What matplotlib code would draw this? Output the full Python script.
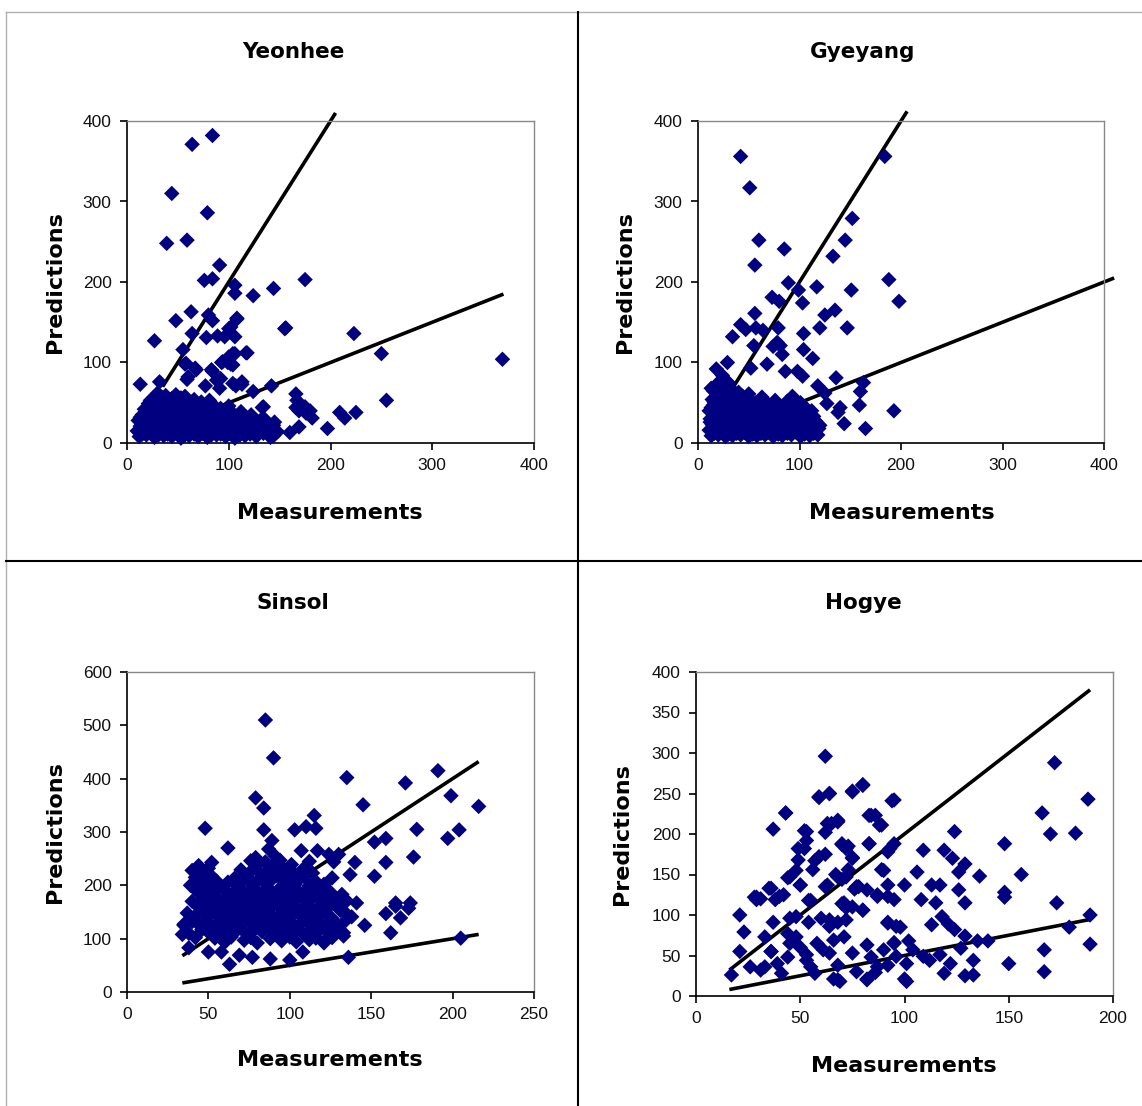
import matplotlib
matplotlib.use("Agg")
import matplotlib.pyplot as plt

# ---- Yeonhee ----
yeonhee_pts = [
    (84, 382), (64, 371), (44, 310), (79, 286), (39, 248), (59, 252), (91, 221), (76, 202),
    (84, 204), (106, 196), (106, 186), (124, 183), (144, 192), (175, 203), (63, 163), (80, 159),
    (84, 152), (48, 152), (108, 155), (102, 144), (156, 143), (64, 136), (78, 131), (89, 133),
    (96, 132), (106, 132), (27, 127), (223, 136), (55, 116), (93, 100), (100, 107), (102, 98),
    (106, 111), (118, 112), (250, 111), (369, 104), (57, 98), (60, 82), (67, 93), (84, 89),
    (13, 73), (32, 76), (92, 80), (107, 71), (113, 73), (142, 71), (133, 44), (166, 61),
    (166, 44), (169, 40), (180, 40), (182, 31), (255, 53), (209, 38), (214, 31), (225, 38),
    (197, 18), (169, 20), (160, 13), (144, 22), (144, 9), (58, 99), (68, 91), (59, 79),
    (100, 142), (108, 154), (117, 112), (104, 111), (94, 101), (99, 100), (104, 97), (83, 91),
    (77, 71), (88, 78), (91, 68), (104, 74), (113, 76), (124, 64), (155, 142), (134, 45),
    (167, 53), (176, 37), (175, 45),
    # dense cluster
    (12, 8), (19, 10), (27, 7), (36, 9), (44, 8), (53, 6), (61, 9), (70, 8), (79, 7), (88, 10),
    (97, 8), (106, 6), (116, 9), (127, 8), (141, 7),
    (10, 15), (16, 13), (23, 14), (31, 16), (40, 13), (48, 15), (57, 14), (66, 12), (74, 15),
    (83, 14), (92, 13), (101, 16), (111, 14), (121, 13), (133, 15), (148, 14),
    (13, 21), (20, 22), (28, 20), (35, 21), (43, 23), (52, 20), (60, 22), (69, 21), (78, 20),
    (86, 22), (95, 21), (104, 23), (114, 20), (124, 22), (136, 21),
    (11, 28), (18, 29), (25, 27), (33, 28), (41, 30), (49, 27), (58, 29), (66, 28), (75, 27),
    (84, 29), (93, 28), (102, 26), (110, 29), (119, 27), (131, 28), (145, 26),
    (15, 35), (22, 36), (30, 34), (38, 35), (46, 37), (55, 34), (63, 36), (72, 35), (81, 34),
    (90, 36), (99, 35), (108, 33), (122, 35),
    (17, 42), (25, 43), (33, 41), (41, 42), (50, 44), (59, 41), (68, 43), (77, 42), (86, 41),
    (96, 40), (112, 39),
    (21, 49), (29, 50), (37, 48), (46, 50), (55, 49), (64, 51), (74, 48), (85, 47), (100, 46),
    (26, 56), (34, 57), (44, 55), (53, 56), (66, 54), (81, 53), (30, 62), (48, 60),
    (15, 11), (23, 12), (31, 10), (40, 11), (49, 12), (57, 10), (66, 11), (74, 12), (83, 10),
    (92, 11), (101, 12), (111, 10), (121, 11), (134, 12),
    (14, 18), (21, 19), (29, 17), (37, 18), (45, 19), (54, 17), (62, 18), (71, 19), (80, 17),
    (89, 18), (98, 19), (107, 17), (117, 18), (128, 19), (140, 17),
    (15, 25), (22, 26), (30, 24), (38, 25), (46, 26), (54, 24), (62, 25), (71, 26), (80, 24),
    (89, 25), (98, 26), (107, 24), (116, 25), (126, 26),
    (13, 32), (20, 33), (27, 31), (35, 32), (43, 33), (51, 31), (60, 32), (68, 33), (77, 31),
    (86, 32), (95, 33), (104, 31), (115, 32), (135, 30),
    (19, 39), (27, 40), (35, 38), (43, 39), (52, 40), (61, 38), (70, 39), (80, 40), (90, 38),
    (104, 37),
    (24, 46), (33, 47), (41, 45), (50, 46), (60, 47), (70, 45), (80, 44), (92, 43),
    (23, 53), (30, 54), (39, 52), (48, 53), (58, 52), (73, 51), (38, 59), (57, 58),
]

# ---- Gyeyang ----
gyeyang_pts = [
    (42, 356), (51, 317), (60, 252), (56, 221), (85, 241), (184, 356), (152, 279), (145, 252),
    (133, 232), (188, 203), (198, 176), (151, 190), (117, 194), (89, 199), (99, 190), (103, 174),
    (73, 181), (80, 176), (135, 165), (125, 159), (120, 143), (147, 143), (104, 136), (56, 161),
    (34, 132), (42, 147), (47, 141), (57, 143), (64, 140), (79, 143), (78, 125), (81, 121),
    (74, 120), (83, 110), (104, 116), (113, 105), (55, 121), (29, 100), (18, 92), (24, 84),
    (52, 93), (68, 98), (86, 89), (98, 89), (103, 83), (136, 81), (163, 75), (160, 64),
    (159, 47), (140, 44), (127, 49), (138, 38), (144, 24), (165, 18), (193, 40), (125, 62),
    (118, 71),
    # dense cluster
    (13, 9), (20, 10), (27, 8), (34, 9), (42, 10), (50, 8), (58, 9), (66, 10), (74, 8), (83, 9),
    (92, 10), (101, 8), (110, 9), (118, 10),
    (11, 16), (17, 15), (24, 17), (31, 16), (38, 15), (46, 17), (54, 16), (62, 15), (70, 17),
    (79, 16), (88, 15), (97, 17), (106, 16), (115, 15),
    (14, 23), (21, 24), (28, 22), (35, 23), (43, 24), (51, 22), (59, 23), (68, 24), (77, 22),
    (86, 23), (95, 24), (104, 22), (113, 23), (120, 22),
    (12, 30), (19, 31), (26, 29), (33, 30), (40, 31), (48, 29), (56, 30), (65, 31), (74, 29),
    (83, 30), (92, 31), (101, 29), (110, 30),
    (15, 37), (22, 38), (29, 36), (36, 37), (44, 38), (53, 36), (62, 37), (71, 38), (80, 36),
    (90, 37), (99, 38), (108, 36),
    (13, 44), (20, 45), (27, 43), (34, 44), (42, 45), (51, 43), (60, 44), (70, 45), (84, 43),
    (96, 44), (105, 45),
    (16, 51), (23, 52), (30, 50), (38, 51), (47, 52), (57, 50), (67, 51), (88, 52), (101, 50),
    (18, 58), (25, 59), (33, 57), (44, 58), (63, 57), (93, 58),
    (15, 65), (22, 66), (29, 64), (40, 63), (18, 72), (27, 71),
    (16, 12), (23, 13), (30, 11), (38, 12), (46, 13), (54, 11), (62, 12), (70, 13), (79, 11),
    (88, 12), (97, 13), (105, 11), (114, 12),
    (14, 19), (21, 20), (28, 18), (35, 19), (42, 20), (50, 18), (58, 19), (66, 20), (75, 18),
    (84, 19), (93, 20), (102, 18), (111, 19), (119, 18),
    (12, 26), (18, 27), (25, 25), (32, 26), (39, 27), (47, 25), (55, 26), (63, 27), (72, 25),
    (81, 26), (90, 27), (99, 25), (108, 26), (116, 27),
    (16, 33), (23, 34), (30, 32), (37, 33), (44, 34), (52, 32), (60, 33), (69, 34), (78, 32),
    (87, 33), (96, 34), (105, 32), (114, 33),
    (11, 40), (18, 41), (25, 39), (32, 40), (40, 41), (48, 39), (57, 40), (66, 41), (75, 39),
    (85, 40), (94, 41), (103, 39), (112, 40),
    (15, 47), (22, 48), (30, 46), (38, 47), (46, 48), (55, 46), (64, 47), (78, 48), (90, 46),
    (100, 47),
    (14, 54), (20, 55), (27, 53), (35, 54), (42, 55), (52, 53), (62, 54), (76, 53),
    (21, 61), (28, 62), (36, 60), (50, 61), (13, 68), (24, 69), (33, 67), (21, 76), (30, 75),
]

# ---- Sinsol ----
sinsol_pts = [
    (85, 510), (90, 439), (135, 402), (79, 364), (84, 345), (191, 415), (171, 392), (199, 368),
    (145, 351), (216, 348), (115, 331), (110, 310), (116, 307), (103, 304), (84, 304), (48, 307),
    (178, 305), (204, 304), (197, 288), (152, 281), (159, 288), (89, 284), (62, 270), (159, 243),
    (140, 243), (176, 253), (137, 220), (152, 217), (141, 167), (146, 125), (159, 147), (165, 167),
    (165, 161), (174, 167), (173, 157), (168, 139), (162, 111), (205, 101), (136, 65), (63, 52),
    (69, 69), (77, 65), (34, 108), (35, 127), (38, 83), (50, 75), (58, 75), (100, 60),
    (88, 62), (108, 75), (122, 98), (126, 124), (133, 105), (131, 157), (124, 258), (130, 258),
    (117, 265), (107, 265), (87, 268), (79, 252), (91, 255),
    # dense cluster
    (60, 93), (72, 97), (80, 92), (95, 96), (104, 94), (112, 98), (121, 92),
    (38, 110), (50, 112), (58, 108), (66, 111), (75, 109), (83, 113), (91, 108), (99, 111),
    (108, 110), (117, 112), (127, 108), (133, 111),
    (35, 125), (44, 127), (54, 123), (62, 126), (70, 124), (79, 128), (87, 123), (95, 126),
    (103, 125), (112, 127), (121, 123), (129, 126),
    (41, 140), (50, 142), (58, 138), (67, 141), (75, 139), (84, 143), (92, 138), (100, 141),
    (109, 140), (118, 142), (126, 138), (138, 141),
    (46, 155), (55, 157), (63, 153), (72, 156), (80, 154), (88, 158), (97, 153), (105, 156),
    (114, 155), (123, 157), (131, 153),
    (40, 170), (50, 172), (59, 168), (68, 171), (76, 169), (85, 173), (93, 168), (101, 171),
    (110, 170), (119, 172), (128, 168), (135, 171),
    (45, 185), (53, 187), (64, 183), (72, 186), (81, 184), (89, 188), (98, 183), (106, 186),
    (116, 185), (125, 187), (132, 183),
    (39, 200), (49, 202), (57, 198), (67, 201), (77, 199), (86, 203), (95, 198), (103, 201),
    (112, 200), (121, 202),
    (42, 215), (52, 217), (66, 213), (74, 216), (83, 214), (92, 218), (100, 213), (109, 216),
    (126, 214),
    (40, 228), (50, 232), (70, 229), (79, 231), (88, 233), (97, 229), (108, 230),
    (52, 243), (76, 246), (85, 244), (94, 247), (112, 245), (127, 244),
    (42, 102), (54, 101), (64, 103), (76, 102), (88, 100), (100, 103), (116, 101), (126, 102),
    (46, 117), (62, 118), (71, 116), (79, 119), (95, 117), (104, 118), (113, 116), (122, 118),
    (40, 132), (49, 133), (58, 131), (66, 134), (75, 132), (83, 133), (91, 131), (99, 134),
    (108, 132), (116, 133), (125, 131), (134, 133),
    (37, 148), (46, 149), (54, 147), (62, 150), (71, 148), (79, 149), (88, 147), (96, 150),
    (105, 148), (113, 149), (122, 147), (134, 149),
    (43, 162), (51, 163), (59, 161), (68, 164), (76, 162), (84, 163), (93, 161), (101, 164),
    (110, 162), (119, 163), (129, 161),
    (47, 177), (55, 178), (64, 176), (72, 179), (81, 177), (89, 178), (97, 176), (106, 179),
    (114, 177), (123, 178), (131, 176),
    (42, 192), (50, 193), (60, 191), (69, 194), (77, 192), (85, 193), (94, 191), (102, 194),
    (110, 192), (119, 193),
    (45, 207), (55, 208), (62, 206), (71, 209), (80, 207), (88, 208), (97, 206), (105, 209),
    (116, 207),
    (47, 222), (75, 223), (84, 221), (93, 224), (103, 222), (114, 223),
    (44, 237), (80, 238), (89, 236), (101, 239),
]

# ---- Hogye ----
hogye_pts = [
    (62, 296), (172, 288), (80, 261), (75, 253), (64, 250), (59, 245), (95, 242), (188, 243),
    (43, 226), (166, 226), (86, 223), (83, 223), (89, 211), (68, 217), (65, 213), (37, 206),
    (62, 202), (52, 204), (124, 203), (170, 200), (182, 201), (148, 188), (83, 188), (70, 187),
    (73, 185), (53, 192), (49, 182), (109, 180), (119, 180), (92, 178), (123, 170), (62, 175),
    (57, 167), (75, 171), (129, 163), (48, 155), (56, 156), (90, 155), (106, 153), (126, 153),
    (136, 148), (156, 150), (44, 146), (67, 150), (70, 144), (73, 156), (50, 137), (63, 137),
    (35, 133), (100, 137), (92, 137), (113, 137), (117, 137), (76, 132), (78, 135), (28, 122),
    (29, 119), (38, 119), (42, 125), (54, 118), (87, 125), (95, 119), (108, 119), (126, 131),
    (148, 128), (148, 122), (129, 115), (115, 115), (173, 115), (21, 100), (189, 100), (80, 106),
    (72, 109), (71, 115), (23, 79), (37, 91), (33, 73), (45, 96), (60, 96), (54, 91),
    (64, 94), (68, 91), (98, 85), (92, 91), (113, 88), (118, 98), (121, 89), (124, 82),
    (129, 74), (179, 85), (135, 68), (140, 68), (21, 55), (36, 55), (95, 66), (102, 68),
    (117, 51), (127, 59), (167, 57), (189, 64), (150, 40), (122, 40), (133, 44), (167, 30),
    (119, 28), (129, 25), (133, 26), (17, 26), (92, 38), (86, 29), (82, 21), (100, 21),
    (66, 21), (69, 18),
    # denser area in the middle
    (26, 36), (31, 32), (33, 36), (36, 55), (41, 28), (39, 40), (44, 48), (45, 65),
    (44, 77), (48, 98), (48, 73), (50, 60), (53, 44), (53, 51), (55, 36), (58, 65),
    (61, 57), (57, 28), (64, 53), (66, 69), (64, 86), (71, 73), (72, 94), (70, 114),
    (68, 38), (68, 20), (75, 53), (77, 30), (82, 63), (84, 48), (82, 20), (87, 36),
    (90, 57), (92, 90), (95, 65), (96, 49), (96, 86), (101, 40), (101, 18), (104, 57),
    (109, 49), (112, 44), (31, 120), (29, 122), (36, 133), (40, 123), (50, 137), (45, 147),
    (55, 118), (62, 135), (59, 172), (52, 182), (49, 168), (53, 203), (43, 226), (63, 213),
    (68, 215), (59, 246), (64, 250), (75, 252), (80, 260), (94, 241), (84, 223), (88, 211),
    (83, 188), (70, 188), (72, 182), (75, 170), (68, 147), (72, 147), (77, 135), (82, 131),
    (89, 156), (95, 188), (93, 182), (75, 110), (80, 106), (87, 123), (92, 123),
]

# measurement range covered by the 2x (upper) and 0.5x (lower) guide lines
yeonhee_upper = [35, 205]
yeonhee_lower = [90, 370]
gyeyang_upper = [34, 206]
gyeyang_lower = [75, 410]
sinsol_upper = [34, 216]
sinsol_lower = [34, 216]
hogye_upper = [16, 189]
hogye_lower = [16, 189]

W, H = 1142, 1106
fig = plt.figure(figsize=(W / 100, H / 100), dpi=100)


def box(l, t, r, b):
    return [l / W, 1 - b / H, (r - l) / W, (b - t) / H]


def fx(x):
    return x / W


def fy(y):
    return 1 - y / H


panels = [
    ("Yeonhee", yeonhee_pts, yeonhee_upper, yeonhee_lower,
     (127, 121, 534, 443), 400, 100, 400, 100, (293, 52), (330, 513), (55, 282)),
    ("Gyeyang", gyeyang_pts, gyeyang_upper, gyeyang_lower,
     (698, 121, 1104, 443), 400, 100, 400, 100, (863, 52), (902, 513), (625, 282)),
    ("Sinsol", sinsol_pts, sinsol_upper, sinsol_lower,
     (127, 672, 534, 992), 250, 50, 600, 100, (293, 603), (330, 1060), (55, 832)),
    ("Hogye", hogye_pts, hogye_upper, hogye_lower,
     (696, 672, 1113, 996), 200, 50, 400, 50, (863, 603), (904, 1066), (622, 834)),
]

for (name, pts, up, lo, rect, xmax, xstep, ymax, ystep,
     tpos, xlpos, ylpos) in panels:
    xs = [p[0] for p in pts]
    ys = [p[1] for p in pts]
    ax = fig.add_axes(box(*rect))
    ax.plot(up, [2 * v for v in up], color="black", lw=2.6, zorder=2,
            clip_on=False, solid_capstyle="butt")
    ax.plot(lo, [0.5 * v for v in lo], color="black", lw=2.6, zorder=2,
            clip_on=False, solid_capstyle="butt")
    ax.scatter(xs, ys, marker="D", s=62, color="#000080", edgecolors="none",
               zorder=3, clip_on=False)
    ax.set_xlim(0, xmax)
    ax.set_ylim(0, ymax)
    ax.set_xticks(range(0, xmax + 1, xstep))
    ax.set_yticks(range(0, ymax + 1, ystep))
    for s in ("top", "right"):
        ax.spines[s].set_color("#888888")
        ax.spines[s].set_linewidth(1)
    for s in ("left", "bottom"):
        ax.spines[s].set_color("black")
        ax.spines[s].set_linewidth(1.2)
    ax.tick_params(direction="out", length=5, width=1.2, color="black",
                   labelsize=12.5, pad=6)
    for lab in ax.get_xticklabels() + ax.get_yticklabels():
        lab.set_fontfamily("Liberation Sans")
        lab.set_color("#111111")
    fig.text(fx(tpos[0]), fy(tpos[1]), name, ha="center", va="center",
             fontsize=15.5, fontweight="bold", family="DejaVu Sans")
    fig.text(fx(xlpos[0]), fy(xlpos[1]), "Measurements", ha="center", va="center",
             fontsize=16, fontweight="bold", family="DejaVu Sans")
    fig.text(fx(ylpos[0]), fy(ylpos[1]), "Predictions", ha="center", va="center",
             rotation=90, fontsize=16, fontweight="bold", family="DejaVu Sans")

# panel frame lines
fig.add_artist(plt.Line2D([fx(6), fx(W)], [fy(11.5), fy(11.5)], color="#b0b0b0", lw=1))
fig.add_artist(plt.Line2D([fx(5.5), fx(5.5)], [fy(11.5), fy(H)], color="#b0b0b0", lw=1))
fig.add_artist(plt.Line2D([fx(578), fx(578)], [fy(11.5), fy(H)], color="black", lw=1.5))
fig.add_artist(plt.Line2D([fx(5.5), fx(W)], [fy(561), fy(561)], color="black", lw=1.5))

plt.savefig("out.png", dpi=100)
